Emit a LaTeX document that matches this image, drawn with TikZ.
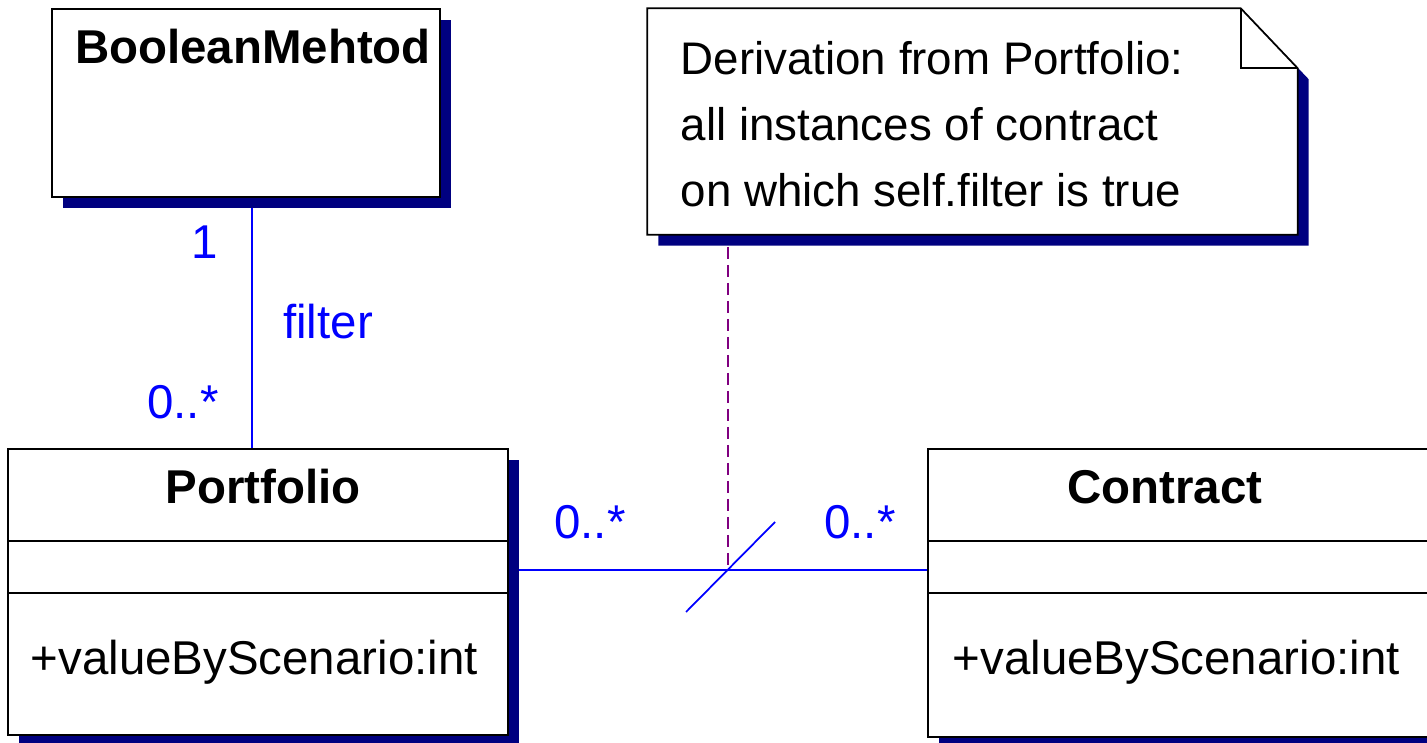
\documentclass[tikz,border=0pt]{standalone}
\usepackage{fontspec}
\setmainfont{Liberation Sans}
\usetikzlibrary{calc,positioning,shadows}
\definecolor{navyshade}{HTML}{000080}
\definecolor{notelink}{HTML}{800080}

\begin{document}
\begin{tikzpicture}[
  classbox/.style={draw,fill=white,line width=0.5pt,inner sep=0pt,
    drop shadow={shadow xshift=0.11cm,shadow yshift=-0.11cm,fill=navyshade,opacity=1}},
  cname/.style={font=\fontsize{13.5}{16}\selectfont\bfseries,inner sep=0pt},
  attr/.style={font=\fontsize{13.5}{16}\selectfont,anchor=west,inner sep=0pt},
  mult/.style={text=blue,font=\fontsize{13.5}{16}\selectfont,inner sep=0pt},
  assoc/.style={blue,line width=0.5pt}]
  \useasboundingbox (0,0) rectangle (14.27,7.42);
  \clip (0,0) rectangle (14.27,7.42);
  % classes
  \node[classbox,minimum width=3.88cm,minimum height=1.88cm] (bool) at (2.46,6.39) {};
  \node[cname] (boolname) at (2.53,6.95) {BooleanMehtod};
  \node[classbox,minimum width=5cm,minimum height=2.86cm] (portfolio) at (2.58,1.50) {};
  \node[cname] (portfolioname) at (2.63,2.55) {Portfolio};
  \draw[line width=0.5pt] (portfolio.west |- 0,2.01) -- (portfolio.east |- 0,2.01);
  \draw[line width=0.5pt] (portfolio.west |- 0,1.49) -- (portfolio.east |- 0,1.49);
  \node[attr] (portfolioattr) at (0.30,0.80) {+valueByScenario:int};
  \node[classbox,minimum width=5.2cm,minimum height=2.88cm] (contract) at (11.88,1.49) {};
  \node[cname] (contractname) at (11.65,2.55) {Contract};
  \draw[line width=0.5pt] (contract.west |- 0,2.01) -- (contract.east |- 0,2.01);
  \draw[line width=0.5pt] (contract.west |- 0,1.49) -- (contract.east |- 0,1.49);
  \node[attr] (contractattr) at (9.52,0.80) {+valueByScenario:int};
  % note
  \node[minimum width=6.49cm,minimum height=2.25cm,inner sep=0pt] (note) at (9.725,6.205) {};
  \fill[navyshade] ($(note.south west)+(0.11,-0.11)$) -- ($(note.south east)+(0.11,-0.11)$)
    -- ($(note.north east)+(0.11,-0.71)$) -- ($(note.north east)+(-0.46,-0.11)$)
    -- ($(note.north west)+(0.11,-0.11)$) -- cycle;
  \draw[fill=white,line width=0.5pt] (note.south west) -- (note.south east)
    -- ($(note.north east)+(0,-0.60)$) -- ($(note.north east)+(-0.57,0)$)
    -- (note.north west) -- cycle;
  \draw[line width=0.5pt] ($(note.north east)+(-0.57,0)$) -- ($(note.north east)+(-0.57,-0.60)$)
    -- ($(note.north east)+(0,-0.60)$);
  \node[anchor=west,align=left,inner sep=0pt,font=\fontsize{13}{18.8}\selectfont] (notetext) at (6.80,6.18)
    {Derivation from Portfolio:\\all instances of contract\\on which self.filter is true};
  % associations
  \coordinate (fb) at (2.52,5.34);
  \draw[assoc] (fb) -- (fb |- portfolio.north);
  \node[mult] (m1) at (2.05,5.00) {1};
  \node[mult] (filterlbl) at (3.28,4.20) {filter};
  \node[mult] (m2) at (1.83,3.40) {0..*};
  \coordinate (pe) at (5.19,1.72);
  \coordinate (mid) at (7.28,1.72);
  \draw[assoc] (pe) -- (contract.west |- pe);
  \draw[assoc] ($(mid)+(-0.42,-0.42)$) -- ($(mid)+(0.47,0.48)$);
  \node[mult] (m3) at (5.90,2.20) {0..*};
  \node[mult] (m4) at (8.60,2.20) {0..*};
  \coordinate (nb) at (7.28,4.95);
  \draw[notelink,line width=0.5pt,dash pattern=on 0.12cm off 0.06cm] (nb) -- (mid);
\end{tikzpicture}
\end{document}
